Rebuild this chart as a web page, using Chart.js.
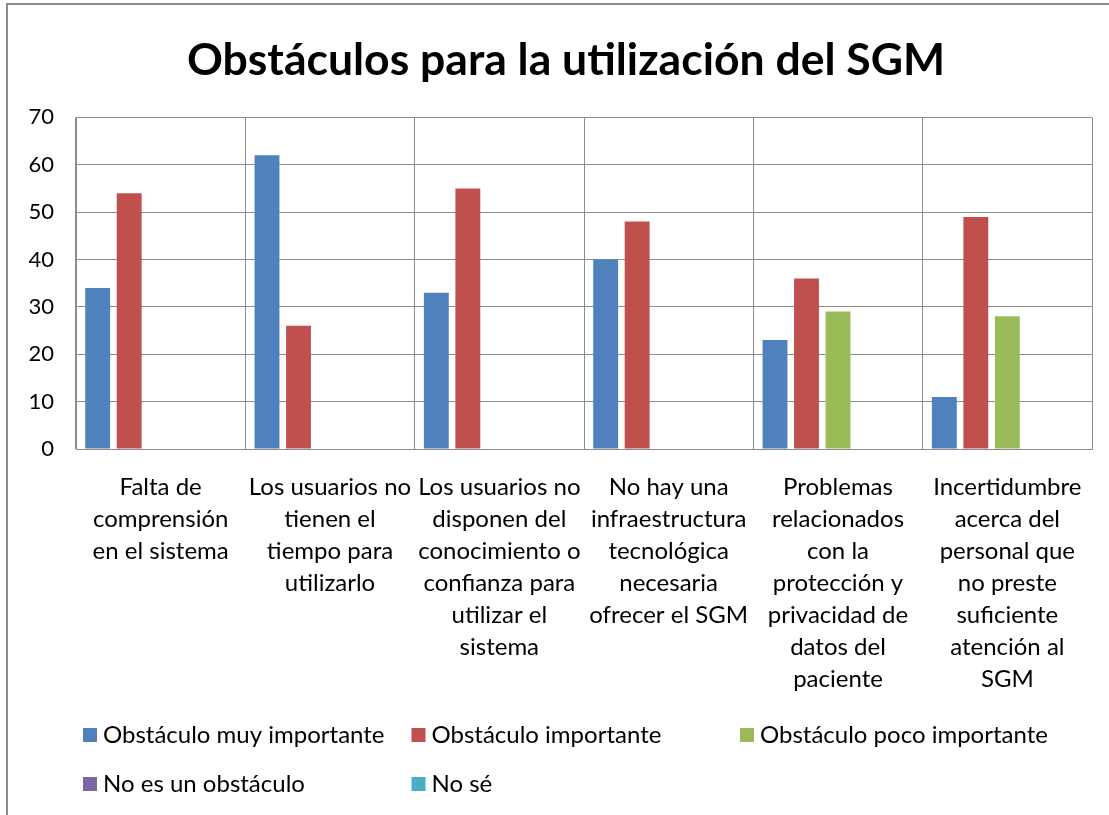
<!DOCTYPE html>
<html>
<head>
<meta charset="utf-8">
<script src="https://cdn.jsdelivr.net/npm/chart.js@4.4.1/dist/chart.umd.min.js"></script>
<style>
html,body{margin:0;padding:0;background:#fff;}
#wrap{width:1109px;height:815px;position:relative;}
</style>
</head>
<body>
<div id="wrap"><canvas id="c" width="1109" height="815"></canvas></div>
<script>
const titleText = "Obstáculos para la utilización del SGM";
const categories = [
  ["Falta de","comprensión","en el sistema"],
  ["Los usuarios no","tienen el","tiempo para","utilizarlo"],
  ["Los usuarios no","disponen del","conocimiento o","confianza para","utilizar el","sistema"],
  ["No hay una","infraestructura","tecnológica","necesaria","ofrecer el SGM"],
  ["Problemas","relacionados","con la","protección y","privacidad de","datos del","paciente"],
  ["Incertidumbre","acerca del","personal que","no preste","suficiente","atención al","SGM"]
];
const seriesNames = ["Obstáculo muy importante","Obstáculo importante","Obstáculo poco importante","No es un obstáculo","No sé"];
const muyImportante = [34, 62, 33, 40, 23, 11];
const importante = [54, 26, 55, 48, 36, 49];
const pocoImportante = [null, null, null, null, 29, 28];
const noEsObstaculo = [null, null, null, null, null, null];
const noSe = [null, null, null, null, null, null];
const yTicks = [0, 10, 20, 30, 40, 50, 60, 70];
const colors = ["#4F81BD", "#C0504D", "#9BBB59", "#8064A2", "#4BACC6"];
const seriesData = [muyImportante, importante, pocoImportante, noEsObstaculo, noSe];

const FONT = "Lato, 'Liberation Sans', sans-serif";

const framePlugin = {
  id: 'frame',
  afterLayout(chart) {
    const t = chart.titleBlock;
    if (t) { t.left += 20; t.right += 20; }
  },
  beforeDraw(chart) {
    const ctx = chart.ctx;
    ctx.save();
    ctx.fillStyle = '#fff';
    ctx.fillRect(0, 0, chart.width, chart.height);
    ctx.strokeStyle = '#8c8c8c';
    ctx.lineWidth = 2;
    ctx.beginPath();
    ctx.moveTo(7, chart.height);
    ctx.lineTo(7, 4);
    ctx.lineTo(chart.width, 4);
    ctx.stroke();
    ctx.restore();
  }
};

const legendPlugin = {
  id: 'gridLegend',
  afterDraw(chart) {
    const ctx = chart.ctx;
    const area = chart.chartArea;
    const x0 = area.left + 7;
    const colW = 328.5;
    const rows = [735, 784];
    ctx.save();
    ctx.font = "24px " + FONT;
    ctx.textBaseline = 'middle';
    ctx.textAlign = 'left';
    chart.data.datasets.forEach((ds, i) => {
      const col = i % 3, row = Math.floor(i / 3);
      const x = x0 + col * colW;
      const y = rows[row];
      ctx.fillStyle = ds.backgroundColor;
      ctx.fillRect(x, y - 7, 14, 14);
      ctx.fillStyle = '#000';
      ctx.fillText(ds.label, x + 20, y);
    });
    ctx.restore();
  }
};

new Chart(document.getElementById('c'), {
  type: 'bar',
  data: {
    labels: categories,
    datasets: seriesNames.map((name, i) => ({
      label: name,
      data: seriesData[i],
      backgroundColor: colors[i],
      borderWidth: 0,
      categoryPercentage: 0.93,
      barPercentage: 0.79
    }))
  },
  options: {
    responsive: false,
    animation: false,
    devicePixelRatio: 1,
    layout: { padding: { left: 0, right: 17, top: 0, bottom: 106 } },
    plugins: {
      legend: { display: false },
      tooltip: { enabled: false },
      title: {
        display: true,
        text: titleText,
        color: '#000',
        font: { family: FONT, size: 44.5, weight: 'bold', lineHeight: 1.2 },
        padding: { top: 34, bottom: 30 }
      }
    },
    scales: {
      x: {
        grid: { display: true, offset: true, color: '#8c8c8c', lineWidth: 1, drawTicks: false },
        border: { display: true, color: '#8c8c8c', width: 1 },
        ticks: {
          autoSkip: false, maxRotation: 0, minRotation: 0,
          color: '#000', padding: 22,
          font: { family: FONT, size: 24, lineHeight: '32px' }
        },
        afterFit(scale) { scale.height = 260; }
      },
      y: {
        min: 0, max: 70,
        afterBuildTicks(scale) { scale.ticks = yTicks.map(v => ({ value: v })); },
        grid: { color: '#8c8c8c', lineWidth: 1, drawTicks: false },
        border: { display: true, color: '#8c8c8c', width: 1 },
        ticks: { color: '#000', padding: 22, font: { family: FONT, size: 22 } },
        afterFit(scale) { scale.width = 76; }
      }
    }
  },
  plugins: [framePlugin, legendPlugin]
});
</script>
</body>
</html>
